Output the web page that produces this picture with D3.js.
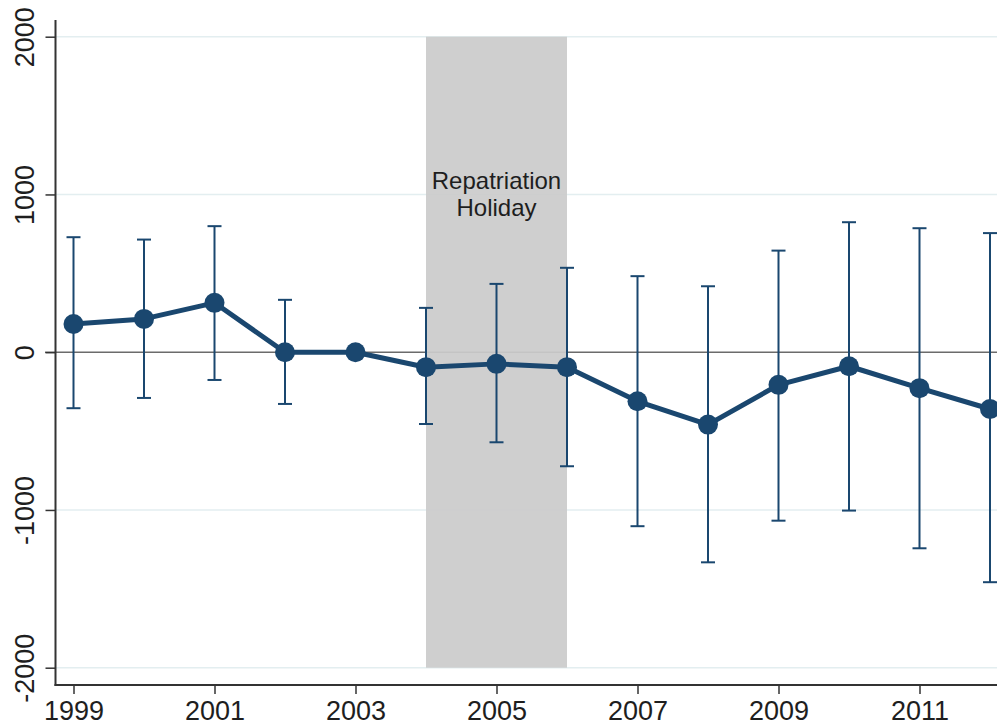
<!DOCTYPE html>
<html>
<head>
<meta charset="utf-8">
<script src="https://cdn.jsdelivr.net/npm/d3@7"></script>
<style>
  html, body { margin: 0; padding: 0; background: #fff; }
  svg { display: block; }
  text { font-family: "Liberation Sans", Arial, Helvetica, sans-serif; fill: #222; }
</style>
</head>
<body>
<svg id="chart" width="997" height="725"></svg>
<script>
// ---- data ----
const years    = [1999, 2000, 2001, 2002, 2003, 2004, 2005, 2006, 2007, 2008, 2009, 2010, 2011, 2012];
const estimate = [179, 211, 313, 0, 0, -95, -74, -95, -311, -459, -207, -89, -228, -360];
const ciUpper  = [729, 714, 799, 332, null, 281, 433, 535, 482, 418, 644, 824, 786, 755];
const ciLower  = [-355, -290, -176, -328, null, -455, -571, -723, -1103, -1332, -1068, -1004, -1243, -1458];
const xTicks   = [1999, 2001, 2003, 2005, 2007, 2009, 2011];
const yTicks   = [-2000, -1000, 0, 1000, 2000];
const shadeRange = [2004, 2006];
const shadeLabel = ["Repatriation", "Holiday"];

const svg = d3.select("#chart");
const W = 997, H = 725;
const axisX = 55.5, axisY = 685;

const x = d3.scaleLinear().domain([1999, 2012]).range([73.5, 990]);
const y = d3.scaleLinear().domain([-2000, 2000]).range([667.7, 36.7]);

const navy = "#1a476f";
const plainFmt = d => String(d);

// gridlines
svg.append("g").selectAll("line")
  .data(yTicks.filter(d => d !== 0))
  .join("line")
  .attr("x1", axisX).attr("x2", W)
  .attr("y1", d => y(d)).attr("y2", d => y(d))
  .attr("stroke", "#e3eef0").attr("stroke-width", 1.5);

// zero line
svg.append("line")
  .attr("x1", 45).attr("x2", W)
  .attr("y1", y(0)).attr("y2", y(0))
  .attr("stroke", "#6b6b6b").attr("stroke-width", 1.5);

// shaded period
svg.append("rect")
  .attr("x", x(shadeRange[0]))
  .attr("width", x(shadeRange[1]) - x(shadeRange[0]))
  .attr("y", y(2000))
  .attr("height", y(-2000) - y(2000))
  .attr("fill", "#cbcbcb").attr("fill-opacity", 0.93);

const shadeG = svg.append("g");
shadeG.selectAll("text")
  .data(shadeLabel)
  .join("text")
  .attr("x", x((shadeRange[0] + shadeRange[1]) / 2))
  .attr("y", (d, i) => 189 + i * 27)
  .attr("text-anchor", "middle")
  .style("font-size", "24px")
  .style("fill", "#1e1e1e")
  .text(d => d);

// axes
const yAxis = d3.axisLeft(y).tickValues(yTicks).tickSize(10).tickFormat(plainFmt);
const gy = svg.append("g").attr("transform", `translate(${axisX},0)`).call(yAxis);
gy.select(".domain").remove();
gy.selectAll(".tick line").attr("stroke", "#333").attr("stroke-width", 1.5);
gy.selectAll(".tick text")
  .attr("x", null).attr("dy", null)
  .attr("transform", "translate(-22,0) rotate(-90)")
  .attr("text-anchor", "middle")
  .attr("y", 0)
  .style("font-size", "27px")
  .style("fill", "#1e1e1e");

const xAxis = d3.axisBottom(x).tickValues(xTicks).tickSize(9).tickFormat(plainFmt);
const gx = svg.append("g").attr("transform", `translate(0,${axisY})`).call(xAxis);
gx.select(".domain").remove();
gx.selectAll(".tick line").attr("stroke", "#333").attr("stroke-width", 1.5);
gx.selectAll(".tick text")
  .attr("y", 35).attr("dy", null)
  .style("font-size", "27px")
  .style("fill", "#1e1e1e");

svg.append("line")
  .attr("x1", axisX).attr("x2", axisX).attr("y1", 20).attr("y2", axisY + 1)
  .attr("stroke", "#333").attr("stroke-width", 2);
svg.append("line")
  .attr("x1", axisX - 1).attr("x2", W).attr("y1", axisY).attr("y2", axisY)
  .attr("stroke", "#333").attr("stroke-width", 2);

// error bars
const ci = years.map((yr, i) => ({yr, lo: ciLower[i], hi: ciUpper[i]})).filter(d => d.lo !== null);
const eb = svg.append("g").attr("stroke", navy).attr("stroke-width", 2);
eb.selectAll("line.v").data(ci).join("line").attr("class", "v")
  .attr("x1", d => x(d.yr)).attr("x2", d => x(d.yr))
  .attr("y1", d => y(d.hi)).attr("y2", d => y(d.lo));
eb.selectAll("line.t").data(ci).join("line").attr("class", "t")
  .attr("x1", d => x(d.yr) - 7).attr("x2", d => x(d.yr) + 7)
  .attr("y1", d => y(d.hi)).attr("y2", d => y(d.hi));
eb.selectAll("line.b").data(ci).join("line").attr("class", "b")
  .attr("x1", d => x(d.yr) - 7).attr("x2", d => x(d.yr) + 7)
  .attr("y1", d => y(d.lo)).attr("y2", d => y(d.lo));

// line + markers
const pts = years.map((yr, i) => ({yr, v: estimate[i]}));
svg.append("path")
  .datum(pts)
  .attr("fill", "none")
  .attr("stroke", navy)
  .attr("stroke-width", 5)
  .attr("stroke-linejoin", "round")
  .attr("d", d3.line().x(d => x(d.yr)).y(d => y(d.v)));

svg.append("g").selectAll("circle")
  .data(pts).join("circle")
  .attr("cx", d => x(d.yr)).attr("cy", d => y(d.v))
  .attr("r", 10).attr("fill", navy);
</script>
</body>
</html>
